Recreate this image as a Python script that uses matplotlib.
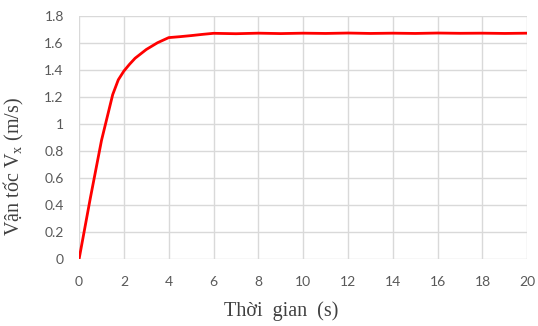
import numpy as np
import matplotlib
matplotlib.use('Agg')
import matplotlib.pyplot as plt
from matplotlib.ticker import MultipleLocator, FuncFormatter

##Data
t = [0, 0.5, 1.0, 1.5, 1.75, 2.0, 2.25, 2.5, 3.0, 3.5, 4.0, 4.5, 5.0, 5.5, 6.0,
     7.0, 8.0, 9.0, 10.0, 11.0, 12.0, 13.0, 14.0, 15.0, 16.0, 17.0, 18.0, 19.0, 20.0]
vx = [0, 0.45, 0.88, 1.22, 1.33, 1.395, 1.445, 1.49, 1.555, 1.605, 1.643, 1.65,
      1.658, 1.667, 1.675, 1.672, 1.676, 1.673, 1.676, 1.674, 1.677, 1.674, 1.676,
      1.674, 1.677, 1.675, 1.676, 1.674, 1.676]

xlabel = 'Thời  gian  (s)'
ylabel = r'Vận tốc V$_\mathregular{x}$ (m/s)'

fig = plt.figure(figsize=(5.38, 3.26), dpi=100)
ax = fig.add_axes([0.147, 0.2055, 0.833, 0.744])

ax.plot(t, vx, color='#ff0000', lw=2.0, solid_capstyle='round',
        solid_joinstyle='round', zorder=3)

ax.set_xlim(0, 20)
ax.set_ylim(0, 1.8)
ax.xaxis.set_major_locator(MultipleLocator(2))
ax.yaxis.set_major_locator(MultipleLocator(0.2))
ax.yaxis.set_major_formatter(FuncFormatter(lambda v, p: ('%.1f' % v).rstrip('0').rstrip('.')))

ax.grid(True, color='#d9d9d9', lw=1.0)
ax.set_axisbelow(True)
for s in ax.spines.values():
    s.set_visible(False)
ax.tick_params(length=0, labelsize=10, labelcolor='#595959')
ax.tick_params(axis='x', pad=12)
ax.tick_params(axis='y', pad=11)
for lab in ax.get_xticklabels() + ax.get_yticklabels():
    lab.set_family('Lato')

ax.set_xlabel(xlabel, family='Liberation Serif', fontsize=14.5, color='#404040')
ax.set_ylabel(ylabel, family='Liberation Serif', fontsize=14.5, color='#404040')
ax.xaxis.set_label_coords(0.451, -0.175)
ax.yaxis.set_label_coords(-0.118, 0.38)

fig.savefig('out.png', dpi=100, facecolor='white')
